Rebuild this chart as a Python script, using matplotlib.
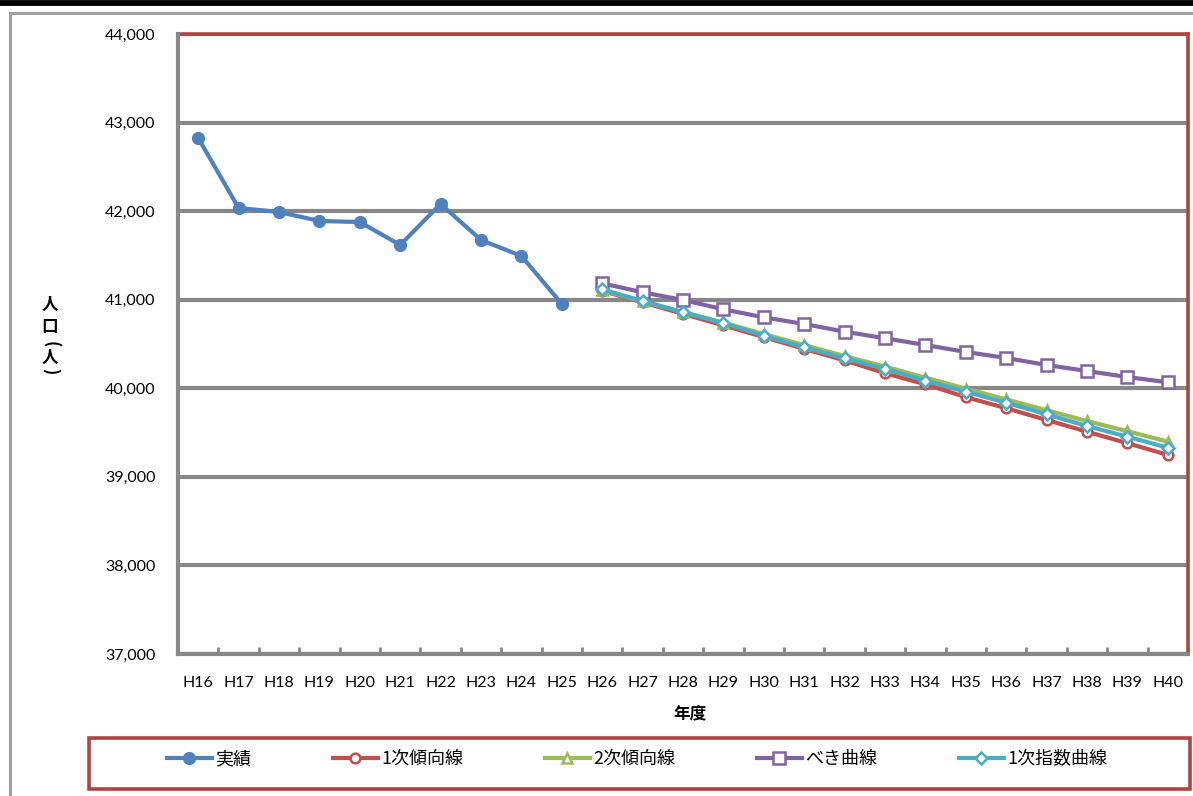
import numpy as np
import matplotlib.pyplot as plt
from matplotlib.lines import Line2D
from matplotlib.patches import Rectangle
from matplotlib.ticker import FuncFormatter, MultipleLocator

plt.rcParams['font.family'] = ['Lato', 'Noto Sans CJK JP', 'DejaVu Sans']

# --- DATA ---
years = ['H16', 'H17', 'H18', 'H19', 'H20', 'H21', 'H22', 'H23', 'H24', 'H25',
         'H26', 'H27', 'H28', 'H29', 'H30', 'H31', 'H32', 'H33', 'H34', 'H35',
         'H36', 'H37', 'H38', 'H39', 'H40']
actual = [42826, 42036, 41990, 41889, 41877, 41618, 42081, 41674, 41494, 40952]
linear = [41100, 40970, 40840, 40710, 40578, 40445, 40315, 40170, 40045, 39900,
          39775, 39642, 39510, 39380, 39248]
quadratic = [41105, 40980, 40862, 40742, 40612, 40488, 40364, 40245, 40120, 39996,
             39875, 39752, 39630, 39515, 39398]
power = [41185, 41084, 40997, 40892, 40801, 40726, 40639, 40565, 40489, 40410,
         40342, 40263, 40195, 40127, 40068]
expo = [41117, 40985, 40858, 40734, 40594, 40463, 40338, 40218, 40086, 39961,
        39837, 39706, 39574, 39453, 39329]

series_names = ['実績', '1次傾向線', '2次傾向線', 'べき曲線', '1次指数曲線']

BLUE, RED, GREEN, PURPLE, CYAN = '#4F81BD', '#C0504D', '#9BBB59', '#8064A2', '#4BACC6'
BORDER = '#B04440'
GRID = '#878787'
CJK = ['Noto Sans CJK JP']

W, H = 1193, 796
fig = plt.figure(figsize=(W / 100, H / 100), dpi=100)

def fx(px):
    return px / W

def fy(py):
    return 1 - py / H

# page rule and outer chart frame
fig.add_artist(Line2D([0, 1], [fy(2.5), fy(2.5)], color='black', lw=4.2))
fig.add_artist(Line2D([fx(10), fx(10)], [fy(13), 0], color='#A0A0A0', lw=2.2))
fig.add_artist(Line2D([fx(10), 1], [fy(13), fy(13)], color='#A0A0A0', lw=2.2))

ax = fig.add_axes([fx(178), fy(654), fx(1188) - fx(178), fy(34) - fy(654)])

x_all = np.arange(len(years))
x_act = x_all[:len(actual)]
x_proj = x_all[len(actual):]

lw = 3.0
ax.plot(x_act, actual, color=BLUE, lw=lw, marker='o', ms=8.5,
        mfc=BLUE, mec=BLUE, zorder=5, label=series_names[0])
ax.plot(x_proj, linear, color=RED, lw=lw, marker='o', ms=7,
        mfc='white', mec=RED, mew=1.8, zorder=5, label=series_names[1])
ax.plot(x_proj, quadratic, color=GREEN, lw=lw, marker='^', ms=7.5,
        mfc='white', mec=GREEN, mew=1.8, zorder=5, label=series_names[2])
ax.plot(x_proj, power, color=PURPLE, lw=lw, marker='s', ms=8.5,
        mfc='white', mec=PURPLE, mew=1.8, zorder=5, label=series_names[3])
ax.plot(x_proj, expo, color=CYAN, lw=lw, marker='D', ms=6.5,
        mfc='white', mec=CYAN, mew=1.8, zorder=6, label=series_names[4])

ax.set_xlim(-0.5, len(years) - 0.5)
ax.set_ylim(37000, 44000)
ax.yaxis.set_major_locator(MultipleLocator(1000))
ax.yaxis.set_major_formatter(FuncFormatter(lambda v, p: f'{int(v):,}'))
ax.set_xticks(x_all)
ax.set_xticklabels(years)
ax.set_xticks(np.arange(-0.5, len(years), 1), minor=True)
ax.tick_params(axis='x', which='major', length=0, pad=16, labelsize=11.5)
ax.tick_params(axis='x', which='minor', direction='in', length=5, width=2, color=GRID)
ax.tick_params(axis='y', which='major', length=0, pad=16, labelsize=11.5)

ax.grid(axis='y', color=GRID, lw=3)
ax.set_axisbelow(True)

for side in ['top', 'right']:
    ax.spines[side].set_color(BORDER)
    ax.spines[side].set_linewidth(2.6)
for side in ['left', 'bottom']:
    ax.spines[side].set_color(GRID)
    ax.spines[side].set_linewidth(3)
    ax.spines[side].set_zorder(4)

# thin red frame line just under the gray axis lines
ax.add_patch(Rectangle((0, 0), 1, 1, transform=ax.transAxes, fill=False,
                       ec=BORDER, lw=1.2, zorder=3.9, clip_on=False))

fig.text(fx(690), fy(713), '年度', ha='center', va='center',
         fontsize=12, fontweight='bold', family=CJK)

# stacked vertical axis title, brackets turned for vertical writing
ylab = [('人', 0), ('口', 0), ('(', -90), ('人', 0), (')', -90)]
ypos = [305, 327, 344, 358, 371]
for (ch, rot), py in zip(ylab, ypos):
    fig.text(fx(50), fy(py), ch, ha='center', va='center', rotation=rot,
             rotation_mode='anchor', fontsize=12, fontweight='bold', family=CJK)

# legend box
fig.add_artist(Rectangle((fx(89), fy(789)), fx(1190) - fx(89), fy(738) - fy(789),
                         transform=fig.transFigure, fill=False, ec=BORDER, lw=2.6))
handles, labels = ax.get_legend_handles_labels()
leg = fig.legend(handles, labels, loc='center', bbox_to_anchor=(fx(637), fy(759)),
                 ncol=5, frameon=False, columnspacing=4.5, handlelength=2.5,
                 handletextpad=0.2, prop={'family': CJK, 'size': 13})

fig.savefig('out.png', dpi=100)
